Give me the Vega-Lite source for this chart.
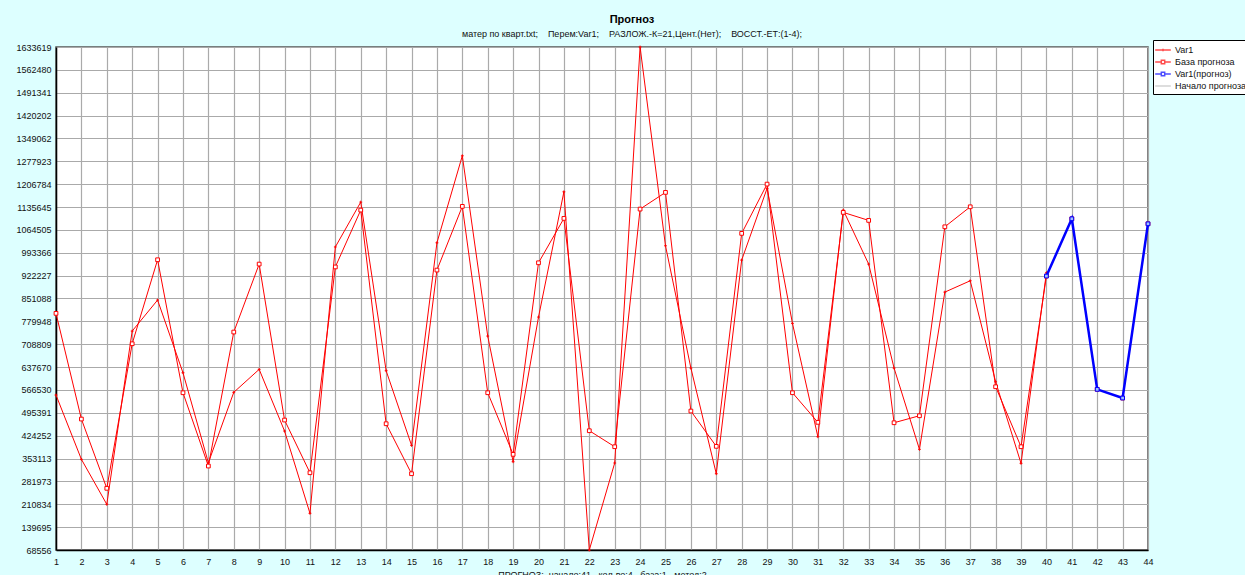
{
  "$schema": "https://vega.github.io/schema/vega-lite/v6.json",
  "width": 1092,
  "height": 503,
  "autosize": {"type": "none"},
  "padding": {"left": 56, "top": 47, "right": 97, "bottom": 25},
  "background": "#ddffff",
  "title": {
    "text": "Прогноз",
    "subtitle": "матер по кварт.txt;\u00a0\u00a0\u00a0\u00a0Перем:Var1;\u00a0\u00a0\u00a0\u00a0РАЗЛОЖ.-К=21,Цент.(Нет);\u00a0\u00a0\u00a0\u00a0ВОССТ.-ЕТ:(1-4);",
    "font": "Liberation Sans",
    "fontSize": 11,
    "fontWeight": "bold",
    "color": "#000000",
    "subtitleFont": "Liberation Sans",
    "subtitleFontSize": 9,
    "subtitleColor": "#111111",
    "anchor": "middle",
    "frame": "group",
    "dx": 30,
    "offset": 1,
    "subtitlePadding": 5
  },
  "config": {
    "view": {"fill": "white", "stroke": "#555555", "strokeWidth": 1.5},
    "axis": {
      "labelFont": "Liberation Sans",
      "labelFontSize": 9,
      "labelColor": "#111111",
      "gridColor": "#aaaaaa",
      "gridWidth": 1.2,
      "domainColor": "#000000",
      "domainWidth": 1.5,
      "ticks": false,
      "titleFont": "Liberation Sans",
      "titleFontSize": 9,
      "titleFontWeight": "normal",
      "titleColor": "#111111"
    }
  },
  "data": {
    "values": [
      {"t": 1, "value": 550700, "s": "Var1"},
      {"t": 2, "value": 350700, "s": "Var1"},
      {"t": 3, "value": 210700, "s": "Var1"},
      {"t": 4, "value": 749800, "s": "Var1"},
      {"t": 5, "value": 846200, "s": "Var1"},
      {"t": 6, "value": 620100, "s": "Var1"},
      {"t": 7, "value": 340100, "s": "Var1"},
      {"t": 8, "value": 559100, "s": "Var1"},
      {"t": 9, "value": 630600, "s": "Var1"},
      {"t": 10, "value": 438700, "s": "Var1"},
      {"t": 11, "value": 182700, "s": "Var1"},
      {"t": 12, "value": 1011500, "s": "Var1"},
      {"t": 13, "value": 1151000, "s": "Var1"},
      {"t": 14, "value": 626300, "s": "Var1"},
      {"t": 15, "value": 394200, "s": "Var1"},
      {"t": 16, "value": 1024500, "s": "Var1"},
      {"t": 17, "value": 1295100, "s": "Var1"},
      {"t": 18, "value": 734200, "s": "Var1"},
      {"t": 19, "value": 343200, "s": "Var1"},
      {"t": 20, "value": 793300, "s": "Var1"},
      {"t": 21, "value": 1183100, "s": "Var1"},
      {"t": 22, "value": 68556, "s": "Var1"},
      {"t": 23, "value": 339200, "s": "Var1"},
      {"t": 24, "value": 1633619, "s": "Var1"},
      {"t": 25, "value": 1015100, "s": "Var1"},
      {"t": 26, "value": 634700, "s": "Var1"},
      {"t": 27, "value": 305900, "s": "Var1"},
      {"t": 28, "value": 970600, "s": "Var1"},
      {"t": 29, "value": 1193700, "s": "Var1"},
      {"t": 30, "value": 773700, "s": "Var1"},
      {"t": 31, "value": 421000, "s": "Var1"},
      {"t": 32, "value": 1126200, "s": "Var1"},
      {"t": 33, "value": 958200, "s": "Var1"},
      {"t": 34, "value": 634700, "s": "Var1"},
      {"t": 35, "value": 381800, "s": "Var1"},
      {"t": 36, "value": 871000, "s": "Var1"},
      {"t": 37, "value": 906200, "s": "Var1"},
      {"t": 38, "value": 592100, "s": "Var1"},
      {"t": 39, "value": 338200, "s": "Var1"},
      {"t": 40, "value": 931100, "s": "Var1"},
      {"t": 1, "value": 804800, "s": "База прогноза"},
      {"t": 2, "value": 476000, "s": "База прогноза"},
      {"t": 3, "value": 260500, "s": "База прогноза"},
      {"t": 4, "value": 710300, "s": "База прогноза"},
      {"t": 5, "value": 971600, "s": "База прогноза"},
      {"t": 6, "value": 557900, "s": "База прогноза"},
      {"t": 7, "value": 329800, "s": "База прогноза"},
      {"t": 8, "value": 746700, "s": "База прогноза"},
      {"t": 9, "value": 958200, "s": "База прогноза"},
      {"t": 10, "value": 472900, "s": "База прогноза"},
      {"t": 11, "value": 309000, "s": "База прогноза"},
      {"t": 12, "value": 949300, "s": "База прогноза"},
      {"t": 13, "value": 1126200, "s": "База прогноза"},
      {"t": 14, "value": 461400, "s": "База прогноза"},
      {"t": 15, "value": 305900, "s": "База прогноза"},
      {"t": 16, "value": 939500, "s": "База прогноза"},
      {"t": 17, "value": 1137700, "s": "База прогноза"},
      {"t": 18, "value": 557900, "s": "База прогноза"},
      {"t": 19, "value": 366200, "s": "База прогноза"},
      {"t": 20, "value": 962200, "s": "База прогноза"},
      {"t": 21, "value": 1100300, "s": "База прогноза"},
      {"t": 22, "value": 439700, "s": "База прогноза"},
      {"t": 23, "value": 389900, "s": "База прогноза"},
      {"t": 24, "value": 1129300, "s": "База прогноза"},
      {"t": 25, "value": 1181200, "s": "База прогноза"},
      {"t": 26, "value": 500900, "s": "База прогноза"},
      {"t": 27, "value": 391100, "s": "База прогноза"},
      {"t": 28, "value": 1053700, "s": "База прогноза"},
      {"t": 29, "value": 1207000, "s": "База прогноза"},
      {"t": 30, "value": 557900, "s": "База прогноза"},
      {"t": 31, "value": 465800, "s": "База прогноза"},
      {"t": 32, "value": 1119000, "s": "База прогноза"},
      {"t": 33, "value": 1094100, "s": "База прогноза"},
      {"t": 34, "value": 464500, "s": "База прогноза"},
      {"t": 35, "value": 486300, "s": "База прогноза"},
      {"t": 36, "value": 1074200, "s": "База прогноза"},
      {"t": 37, "value": 1136400, "s": "База прогноза"},
      {"t": 38, "value": 576500, "s": "База прогноза"},
      {"t": 39, "value": 389900, "s": "База прогноза"},
      {"t": 40, "value": 920900, "s": "База прогноза"},
      {"t": 41, "value": 1099100, "s": "База прогноза"},
      {"t": 42, "value": 568400, "s": "База прогноза"},
      {"t": 43, "value": 541400, "s": "База прогноза"},
      {"t": 44, "value": 1083500, "s": "База прогноза"},
      {"t": 40, "value": 920900, "s": "Var1(прогноз)"},
      {"t": 41, "value": 1099100, "s": "Var1(прогноз)"},
      {"t": 42, "value": 568400, "s": "Var1(прогноз)"},
      {"t": 43, "value": 541400, "s": "Var1(прогноз)"},
      {"t": 44, "value": 1083500, "s": "Var1(прогноз)"}
    ]
  },
  "encoding": {
    "x": {
      "field": "t",
      "type": "quantitative",
      "scale": {"domain": [1, 44], "nice": false, "zero": false},
      "axis": {
        "values": [1,2,3,4,5,6,7,8,9,10,11,12,13,14,15,16,17,18,19,20,21,22,23,24,25,26,27,28,29,30,31,32,33,34,35,36,37,38,39,40,41,42,43,44],
        "format": "d",
        "labelPadding": 7,
        "labelFlush": false,
        "title": "ПРОГНОЗ:\u00a0\u00a0начало:41,\u00a0\u00a0кол-во:4,\u00a0\u00a0база:1,\u00a0\u00a0метод:2",
        "titlePadding": 4
      }
    },
    "y": {
      "field": "value",
      "type": "quantitative",
      "scale": {"domain": [68556, 1633619], "nice": false, "zero": false},
      "axis": {
        "values": [68556,139695,210834,281973,353113,424252,495391,566530,637670,708809,779948,851088,922227,993366,1064505,1135645,1206784,1277923,1349062,1420202,1491341,1562480,1633619],
        "format": "d",
        "labelPadding": 5,
        "labelFlush": false,
        "title": null
      }
    }
  },
  "layer": [
    {
      "transform": [{"filter": "datum.s === 'Var1'"}],
      "mark": {
        "type": "line",
        "color": "#ff0000",
        "strokeWidth": 1,
        "point": {"shape": "M-1,0H1M0,-1V1", "size": 8, "filled": false, "stroke": "#ff0000", "strokeWidth": 1}
      }
    },
    {
      "transform": [{"filter": "datum.s === 'База прогноза'"}],
      "mark": {
        "type": "line",
        "color": "#ff0000",
        "strokeWidth": 1,
        "point": {"shape": "square", "size": 14, "filled": false, "fill": "white", "stroke": "#ff0000", "strokeWidth": 1}
      }
    },
    {
      "transform": [{"filter": "datum.s === 'Var1(прогноз)'"}],
      "mark": {
        "type": "line",
        "color": "#0000ff",
        "strokeWidth": 2.5,
        "point": {"shape": "square", "size": 14, "filled": false, "fill": "#a0c0ff", "stroke": "#0000ff", "strokeWidth": 1}
      }
    },
    {
      "mark": {"type": "point", "size": 0, "filled": false},
      "encoding": {
        "color": {
          "field": "s",
          "type": "nominal",
          "scale": {
            "domain": ["Var1", "База прогноза", "Var1(прогноз)", "Начало прогноза"],
            "range": ["#ff0000", "#ff0000", "#0000ff", "#c0c0c0"]
          },
          "legend": {
            "orient": "none",
            "legendX": 1097,
            "legendY": -7,
            "title": null,
            "fillColor": "white",
            "strokeColor": "#000000",
            "padding": 3,
            "symbolSize": 144,
            "labelFont": "Liberation Sans",
            "labelFontSize": 9,
            "labelColor": "#111111",
            "labelOffset": 5,
            "rowPadding": 0,
            "encode": {
              "symbols": {
                "update": {
                  "strokeWidth": {"signal": "datum.value === 'Var1(прогноз)' ? 2.5 : (datum.value === 'Начало прогноза' ? 3 : 1)"}
                }
              }
            }
          }
        },
        "shape": {
          "field": "s",
          "type": "nominal",
          "scale": {
            "domain": ["Var1", "База прогноза", "Var1(прогноз)", "Начало прогноза"],
            "range": [
              "M-1.3,0H1.3M0,-0.2V0.2",
              "M-1.3,0H-0.28M0.28,0H1.3M-0.28,-0.28H0.28V0.28H-0.28Z",
              "M-1.3,0H-0.28M0.28,0H1.3M-0.28,-0.28H0.28V0.28H-0.28Z",
              "M-1.3,0H1.3"
            ]
          }
        }
      }
    }
  ]
}
